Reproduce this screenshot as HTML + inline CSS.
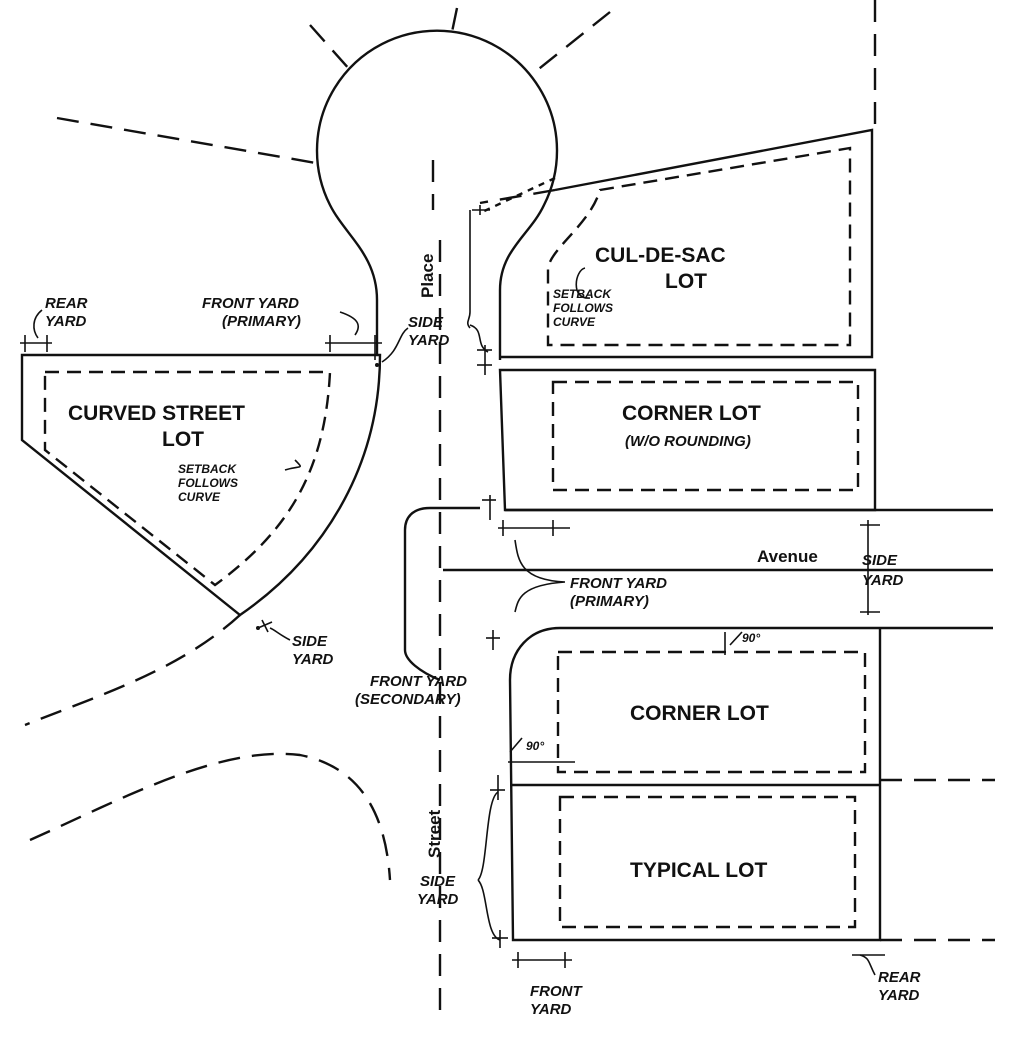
<!DOCTYPE html>
<html><head><style>
html,body{margin:0;padding:0;background:#fff;}
svg{display:block;}
text{font-family:"Liberation Sans",sans-serif;font-weight:bold;fill:#111;}
.l{font-size:21px;}
.s{font-size:15px;font-style:italic;}
.xs{font-size:12px;font-style:italic;}
</style></head><body>
<svg width="1016" height="1039" viewBox="0 0 1016 1039" xmlns="http://www.w3.org/2000/svg">
<g fill="none" stroke="#111" stroke-width="2.4">
<path d="M377,355 L377,300 C377,255 345,235 330,205 A120,120 0 1 1 544,205 C530,235 500,250 500,290 L500,360"/>
<g stroke-dasharray="22,12">
<line x1="310" y1="25" x2="350" y2="70"/>
<line x1="457" y1="8" x2="452" y2="32"/>
<line x1="610" y1="12" x2="535" y2="72"/>
<line x1="57" y1="118" x2="316" y2="163"/>
<line x1="875" y1="0" x2="875" y2="130"/>
<line x1="440" y1="240" x2="440" y2="1020"/>
<line x1="433" y1="160" x2="433" y2="210"/>
<path d="M240,615 C180,670 100,695 25,725"/>
<path d="M30,840 C120,800 220,745 300,755 C350,765 385,800 390,880"/>
<line x1="880" y1="780" x2="995" y2="780"/>
<line x1="880" y1="940" x2="995" y2="940"/>
<line x1="555" y1="190" x2="480" y2="203"/>
<line x1="555" y1="178" x2="480" y2="213" stroke-dasharray="6,6"/>
</g>
<path d="M22,355 L380,355 C380,470 320,560 240,615 L22,440 Z"/>
<path d="M45,372 L330,372 C325,470 290,530 215,585 L45,450 Z" stroke-dasharray="14,8"/>
<path d="M555,190 L872,130 L872,357 L500,357"/>
<path d="M600,190 L850,148 L850,345 L548,345 L548,270 C548,250 590,225 600,190 Z" stroke-dasharray="14,8"/>
<path d="M500,370 L875,370 L875,510 L505,510 Z"/>
<rect x="553" y="382" width="305" height="108" stroke-dasharray="14,8"/>
<line x1="505" y1="510" x2="993" y2="510"/>
<line x1="443" y1="570" x2="993" y2="570"/>
<path d="M993,628 L560,628 C530,628 510,650 510,680 L513,940 L880,940 L880,628"/>
<line x1="510" y1="785" x2="880" y2="785"/>
<rect x="558" y="652" width="307" height="120" stroke-dasharray="14,8"/>
<rect x="560" y="797" width="295" height="130" stroke-dasharray="14,8"/>
<path d="M480,508 L430,508 C412,508 405,518 405,530 L405,650 C405,660 420,672 440,680"/>
<g stroke-width="1.6">
<line x1="20" y1="343" x2="52" y2="343"/><line x1="25" y1="335" x2="25" y2="352"/><line x1="47" y1="335" x2="47" y2="352"/>
<line x1="325" y1="343" x2="382" y2="343"/><line x1="330" y1="335" x2="330" y2="352"/><line x1="375" y1="335" x2="375" y2="360"/>
<line x1="498" y1="528" x2="570" y2="528"/><line x1="503" y1="520" x2="503" y2="536"/><line x1="553" y1="520" x2="553" y2="536"/>
<line x1="512" y1="960" x2="572" y2="960"/><line x1="518" y1="952" x2="518" y2="968"/><line x1="565" y1="952" x2="565" y2="968"/>
<line x1="868" y1="520" x2="868" y2="615"/><line x1="860" y1="525" x2="880" y2="525"/><line x1="860" y1="612" x2="880" y2="612"/>
<line x1="480" y1="205" x2="480" y2="215"/><line x1="472" y1="210" x2="490" y2="210"/>
<line x1="485" y1="345" x2="485" y2="375"/><line x1="477" y1="350" x2="492" y2="350"/><line x1="477" y1="365" x2="492" y2="365"/>
<line x1="490" y1="495" x2="490" y2="520"/><line x1="482" y1="500" x2="496" y2="500"/>
<line x1="493" y1="630" x2="493" y2="650"/><line x1="486" y1="638" x2="500" y2="638"/>
<line x1="498" y1="775" x2="498" y2="800"/><line x1="490" y1="790" x2="505" y2="790"/>
<line x1="500" y1="930" x2="500" y2="948"/><line x1="492" y1="938" x2="508" y2="938"/>
<line x1="725" y1="632" x2="725" y2="655"/><line x1="730" y1="645" x2="742" y2="632"/>
<line x1="508" y1="762" x2="575" y2="762"/><line x1="510" y1="752" x2="522" y2="738"/>
<line x1="852" y1="955" x2="885" y2="955"/>
<line x1="258" y1="628" x2="272" y2="622"/><line x1="262" y1="620" x2="268" y2="632"/>
</g>
<g stroke-width="1.6">
<path d="M42,310 C32,318 32,330 38,338"/>
<path d="M340,312 C358,318 362,325 355,335"/>
<path d="M408,328 C398,335 400,350 382,362"/>
<path d="M470,325 C485,330 475,345 488,352"/>
<path d="M470,210 L470,312 C470,320 465,322 470,328"/>
<path d="M295,460 C305,470 300,465 285,470"/>
<path d="M590,298 C570,300 575,270 585,268"/>
<path d="M565,582 C520,580 518,560 515,540 M565,582 C520,585 518,600 515,612"/>
<path d="M290,640 C280,635 275,630 270,628"/>
<path d="M478,880 C488,870 485,800 498,792 M478,880 C488,890 485,935 500,940"/>
<path d="M875,975 C868,962 870,958 860,955"/>
</g>
</g>
<g fill="#111"><circle cx="377" cy="365" r="2"/><circle cx="258" cy="628" r="2"/></g>
<text class="l" x="595" y="262">CUL-DE-SAC</text>
<text class="l" x="665" y="288">LOT</text>
<text class="xs" x="553" y="298">SETBACK</text>
<text class="xs" x="553" y="312">FOLLOWS</text>
<text class="xs" x="553" y="326">CURVE</text>
<text class="l" x="622" y="420">CORNER LOT</text>
<text class="s" x="625" y="446">(W/O ROUNDING)</text>
<text class="l" x="68" y="420">CURVED STREET</text>
<text class="l" x="162" y="446">LOT</text>
<text class="xs" x="178" y="473">SETBACK</text>
<text class="xs" x="178" y="487">FOLLOWS</text>
<text class="xs" x="178" y="501">CURVE</text>
<text class="s" x="45" y="308">REAR</text>
<text class="s" x="45" y="326">YARD</text>
<text class="s" x="202" y="308">FRONT YARD</text>
<text class="s" x="222" y="326">(PRIMARY)</text>
<text class="s" x="408" y="327">SIDE</text>
<text class="s" x="408" y="345">YARD</text>
<text class="l" x="0" y="0" transform="translate(433,298) rotate(-90)" style="font-size:17px">Place</text>
<text x="757" y="562" style="font-size:17px">Avenue</text>
<text class="s" x="862" y="565">SIDE</text>
<text class="s" x="862" y="585">YARD</text>
<text class="s" x="570" y="588">FRONT YARD</text>
<text class="s" x="570" y="606">(PRIMARY)</text>
<text class="s" x="292" y="646">SIDE</text>
<text class="s" x="292" y="664">YARD</text>
<text class="s" x="370" y="686">FRONT YARD</text>
<text class="s" x="355" y="704">(SECONDARY)</text>
<text class="xs" x="742" y="642">90°</text>
<text class="xs" x="526" y="750">90°</text>
<text class="l" x="630" y="720">CORNER LOT</text>
<text class="l" x="630" y="877">TYPICAL LOT</text>
<text class="l" x="0" y="0" transform="translate(440,858) rotate(-90)" style="font-size:17px">Street</text>
<text class="s" x="420" y="886">SIDE</text>
<text class="s" x="417" y="904">YARD</text>
<text class="s" x="530" y="996">FRONT</text>
<text class="s" x="530" y="1014">YARD</text>
<text class="s" x="878" y="982">REAR</text>
<text class="s" x="878" y="1000">YARD</text>
</svg>
</body></html>
